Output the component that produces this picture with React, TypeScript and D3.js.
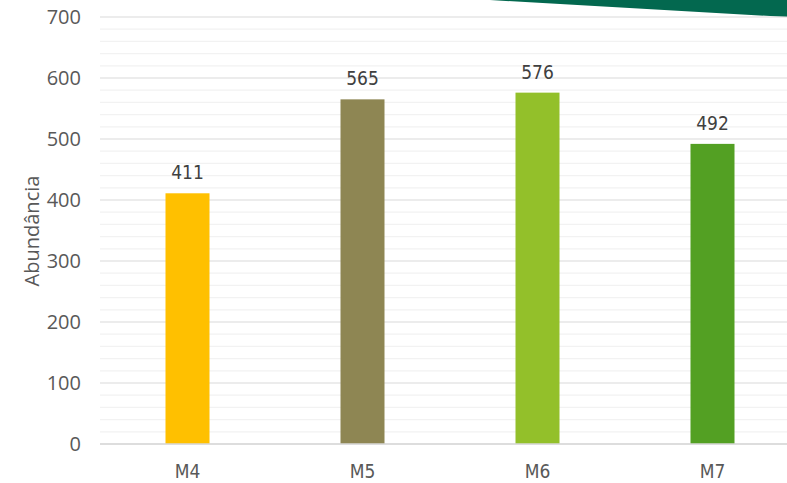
import React from "react";
import * as d3 from "d3";

const categories = ["M4", "M5", "M6", "M7"];
const values = [411, 565, 576, 492];
const barColors = ["#FFC000", "#8E8653", "#93C02A", "#53A023"];
const majorTicks = [0, 100, 200, 300, 400, 500, 600, 700];
const minorStep = 20;

const W = 787;
const H = 483;

export default function App() {
  const x = d3.scaleBand<string>().domain(categories).range([100, 800]).paddingInner(0).paddingOuter(0);
  const y = d3.scaleLinear().domain([0, 700]).range([444, 17]);
  const minorTicks = d3.range(0, 700 + 1, minorStep).filter((v) => v % 100 !== 0);
  const barW = 44;
  const tickFont = "'Open Sans', 'Liberation Sans', sans-serif";
  const labelFont = "'DejaVu Sans Condensed', 'DejaVu Sans', sans-serif";

  return (
    <svg
      width={W}
      height={H}
      style={{ position: "absolute", left: 0, top: 0, background: "#fff" }}
    >
      <rect x={0} y={0} width={W} height={H} fill="#ffffff" />
      <path d="M490,0 L787,0 L787,17 Z" fill="#03684F" />
      {minorTicks.map((v) => (
        <line key={"m" + v} x1={100} x2={W} y1={y(v)} y2={y(v)} stroke="#F2F2F2" strokeWidth={1.2} />
      ))}
      {majorTicks.map((v) => (
        <line key={"g" + v} x1={100} x2={W} y1={y(v)} y2={y(v)} stroke="#D9D9D9" strokeWidth={1.2} />
      ))}
      {majorTicks.map((v) => (
        <text
          key={"t" + v}
          x={81}
          y={y(v)}
          dy="0.36em"
          textAnchor="end"
          fontFamily={tickFont}
          fontSize={20}
          fill="#595959"
        >
          {v}
        </text>
      ))}
      {categories.map((c, i) => {
        const cx = (x(c) as number) + x.bandwidth() / 2;
        return (
          <g key={c}>
            <rect x={cx - barW / 2} y={y(values[i])} width={barW} height={y(0) - y(values[i])} fill={barColors[i]} />
            <text
              x={cx}
              y={y(values[i]) - 14}
              textAnchor="middle"
              fontFamily={labelFont}
              fontSize={19}
              fill="#404040"
            >
              {values[i]}
            </text>
            <text
              x={cx}
              y={478}
              textAnchor="middle"
              fontFamily={labelFont}
              fontSize={19}
              fill="#595959"
            >
              {c}
            </text>
          </g>
        );
      })}
      <line x1={100} x2={W} y1={y(0)} y2={y(0)} stroke="#D9D9D9" strokeWidth={1.5} />
      <text
        transform={`translate(39,231) rotate(-90)`}
        textAnchor="middle"
        fontFamily={tickFont}
        fontSize={20}
        fill="#595959"
      >
        Abundância
      </text>
    </svg>
  );
}
